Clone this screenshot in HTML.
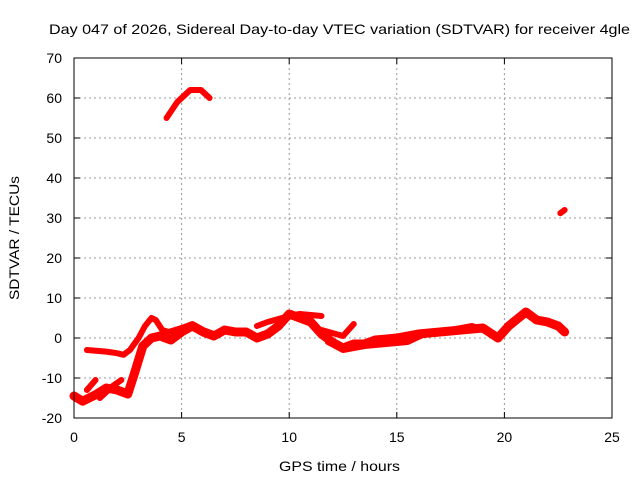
<!DOCTYPE html>
<html><head><meta charset="utf-8"><style>
body{margin:0;background:#fff;}
svg{display:block;font-family:"Liberation Sans",sans-serif;font-size:14px;}
</style></head><body>
<svg id="chart" width="640" height="480">
<text x="49" y="34" textLength="581" lengthAdjust="spacingAndGlyphs">Day 047 of 2026, Sidereal Day-to-day VTEC variation (SDTVAR) for receiver 4gle</text>
<g id="grid"></g><g id="series"></g>
<rect x="74" y="58" width="538" height="360" fill="none" stroke="#000" stroke-width="1"/>
<g id="ticks"></g>
<text x="279" y="471" textLength="121" lengthAdjust="spacingAndGlyphs">GPS time / hours</text>
<text transform="translate(19,238) rotate(-90)" text-anchor="middle" textLength="124" lengthAdjust="spacingAndGlyphs">SDTVAR / TECUs</text>
</svg>
<script>
const xTicks=[0,5,10,15,20,25];
const yTicks=[-20,-10,0,10,20,30,40,50,60,70];
const seriesA=[[0.6,-3],[1.5,-3.4],[2.0,-3.8],[2.3,-4.2],[2.6,-3],[3.0,0],[3.3,3],[3.6,5],[3.8,4.5],[4.1,2],[4.4,1.5],[5.0,2.5],[5.5,3.5],[6.0,2],[6.5,1]];
const seriesB=[[0,-14.5],[0.4,-15.8],[1.0,-14.2],[1.5,-12.5],[2.0,-13],[2.5,-14],[2.8,-9],[3.2,-2],[3.6,0],[4.0,0.5],[4.5,-0.5],[5.0,1.5],[5.5,3],[6.0,1.5],[6.5,0.5],[7.0,2],[7.5,1.5],[8.0,1.5],[8.5,0],[9.0,1],[9.5,3],[10.0,6],[10.5,5],[11.0,4],[11.5,1],[12.0,-1],[12.5,-2.5],[13.0,-1.5],[13.5,-1.5],[14.0,-0.5],[15.0,0],[16.0,1],[17.0,1.5],[18.0,2],[19.0,2.5],[19.7,0],[20.2,3],[21.0,6.5],[21.5,4.5],[22.0,4],[22.5,3],[22.8,1.5]];
const seriesC=[[1.2,-15],[1.8,-12],[2.2,-10.5]];
const seriesD=[[0.6,-13],[1.0,-10.5]];
const seriesE=[[8.5,3],[9.0,4],[10.0,5.5],[10.5,6],[11.5,5.5]];
const seriesF=[[11.5,2],[12.5,0.5],[13.0,3.5]];
const seriesG=[[11.8,-1],[12.5,-3],[13.5,-2],[14.5,-1.5],[15.5,-1],[16.5,1.5],[17.5,2],[18.5,3],[19.5,1]];
const seriesH=[[4.3,55],[4.8,59],[5.4,62],[5.9,62],[6.3,60]];
const seriesI=[[22.6,31.2],[22.8,32]];
const X=h=>74+h*538/25, Y=v=>418-(v+20)*4;
const NS="http://www.w3.org/2000/svg";
const grid=document.getElementById('grid'),ticks=document.getElementById('ticks'),ser=document.getElementById('series');
function mk(tag,a,p){const e=document.createElementNS(NS,tag);for(const k in a)e.setAttribute(k,a[k]);p.appendChild(e);return e;}
xTicks.forEach(t=>{
 if(t>0&&t<25){const g=mk('line',{x1:X(t),x2:X(t),y1:58,y2:418,stroke:'#999','stroke-dasharray':'2,3'},grid);
 
 }
 const tx=mk('text',{x:X(t),y:442,'text-anchor':'middle'},ticks);tx.textContent=t;
 
 
 mk('line',{x1:X(t),x2:X(t),y1:418,y2:412,stroke:'#000'},ticks);mk('line',{x1:X(t),x2:X(t),y1:58,y2:64,stroke:'#000'},ticks);
});
yTicks.forEach(t=>{
 if(t>-20&&t<70){const g=mk('line',{x1:74,x2:612,y1:Y(t),y2:Y(t),stroke:'#999','stroke-dasharray':'2,3'},grid);
 
 }
 const tx=mk('text',{x:62,y:Y(t)+5,'text-anchor':'end'},ticks);tx.textContent=t;
 
 
 mk('line',{x1:74,x2:80,y1:Y(t),y2:Y(t),stroke:'#000'},ticks);mk('line',{x1:606,x2:612,y1:Y(t),y2:Y(t),stroke:'#000'},ticks);
});
[seriesA,seriesB,seriesC,seriesD,seriesE,seriesF,seriesG,seriesH,seriesI].forEach((s,i)=>{
 const p=mk('polyline',{points:s.map(d=>X(d[0])+','+Y(d[1])).join(' '),fill:'none',stroke:'#f00','stroke-width':i==1?9:6,'stroke-linejoin':'round','stroke-linecap':'round'},ser);
 
 
});
</script>
</body></html>
